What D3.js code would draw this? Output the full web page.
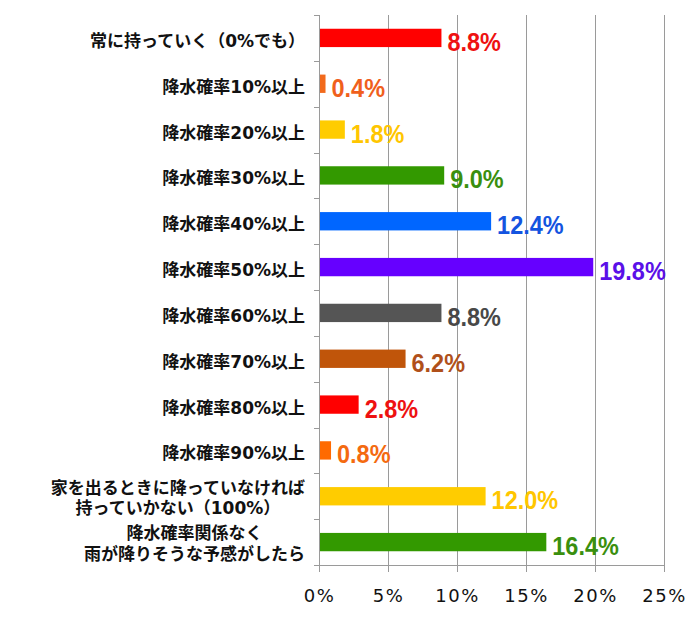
<!DOCTYPE html>
<html><head><meta charset="utf-8">
<script src="https://cdn.jsdelivr.net/npm/d3@7"></script>
<style>body{margin:0;background:#fff;} svg{display:block;}</style>
</head><body>
<svg id="c" width="696" height="625"></svg>
<script>
const categories = [
  ["常に持っていく（0%でも）"],
  ["降水確率10%以上"],
  ["降水確率20%以上"],
  ["降水確率30%以上"],
  ["降水確率40%以上"],
  ["降水確率50%以上"],
  ["降水確率60%以上"],
  ["降水確率70%以上"],
  ["降水確率80%以上"],
  ["降水確率90%以上"],
  ["家を出るときに降っていなければ", "持っていかない（100%）"],
  ["降水確率関係なく", "雨が降りそうな予感がしたら"]
];
const values = [8.8, 0.4, 1.8, 9.0, 12.4, 19.8, 8.8, 6.2, 2.8, 0.8, 12.0, 16.4];
const barColors = ["#ff0000","#f26a1c","#ffcc00","#339900","#0066ff","#6600ff","#555555","#c0550a","#ff0000","#ff6a00","#ffcc00","#339900"];
const labelColors = ["#ee1111","#f0601c","#ffc600","#3a8f0e","#1454e0","#5a10e8","#484848","#b0501a","#ee1111","#f46a10","#ffc600","#3a8f0e"];
const xTicks = [0, 5, 10, 15, 20, 25];

const svg = d3.select("#c");
const pL = 319, pR = 664, pT = 15, pB = 565;
const x = d3.scaleLinear().domain([0, 25]).range([pL, pR]);
const y = d3.scaleBand().domain(d3.range(categories.length)).range([pT, pB]).paddingInner(0.6).paddingOuter(0.3);
const yb = d3.scaleBand().domain(d3.range(categories.length)).range([pT, pB]);

// gridlines
svg.append("g").selectAll("line").data(xTicks.slice(1)).join("line")
  .attr("x1", d => Math.round(x(d)) + 0.5).attr("x2", d => Math.round(x(d)) + 0.5)
  .attr("y1", pT).attr("y2", pB + 7)
  .attr("stroke", "#9a9a9a").attr("stroke-width", 1);

// x axis
const xAxis = svg.append("g").attr("transform", `translate(0,${pB})`)
  .call(d3.axisBottom(x).tickValues(xTicks).tickFormat(d => d + "%").tickSize(7).tickPadding(17));
xAxis.select(".domain").attr("stroke", "#9a9a9a").attr("d", `M${pL},0.5H${pR}`);
xAxis.selectAll(".tick line").attr("stroke", "#9a9a9a");
xAxis.selectAll("text").attr("font-family", "'DejaVu Sans', sans-serif").attr("font-size", 18)
  .attr("letter-spacing", "1.5px").attr("fill", "#111");

// y axis line + ticks
svg.append("line").attr("x1", pL + 0.5).attr("x2", pL + 0.5).attr("y1", pT).attr("y2", pB + 7).attr("stroke", "#9a9a9a");
svg.append("g").selectAll("line").data(d3.range(categories.length + 1)).join("line")
  .attr("x1", pL - 5).attr("x2", pL)
  .attr("y1", d => Math.round(pT + d * yb.step()) + 0.5).attr("y2", d => Math.round(pT + d * yb.step()) + 0.5)
  .attr("stroke", "#9a9a9a");

// bars
svg.append("g").selectAll("rect").data(values).join("rect")
  .attr("x", pL + 1).attr("y", (d, i) => y(i))
  .attr("width", d => x(d) - pL).attr("height", y.bandwidth())
  .attr("fill", (d, i) => barColors[i]);

// value labels
svg.append("g").selectAll("text").data(values).join("text")
  .attr("transform", (d, i) => `translate(${x(d) + 7},${y(i) + y.bandwidth() / 2 + 13}) scale(0.92,1)`)
  .attr("font-family", "'Liberation Sans', sans-serif")
  .attr("font-weight", "bold").attr("font-size", 25.5)
  .attr("fill", (d, i) => labelColors[i])
  .text(d => d.toFixed(1) + "%");

// category labels
const labelRight = 305;
const cl = svg.append("g").selectAll("text").data(categories).join("text")
  .attr("font-family", "'DejaVu Sans', 'Noto Sans CJK JP', sans-serif")
  .attr("font-weight", "bold").attr("font-size", 17).attr("fill", "#111");
cl.each(function(lines, i) {
  const cy = yb(i) + yb.bandwidth() / 2;
  const n = lines.length;
  const g = d3.select(this);
  const spans = lines.map((t, k) => g.append("tspan")
      .attr("y", cy + (k - (n - 1) / 2) * 20.5 + (n > 1 ? 7.5 : 9)).text(t));
  if (n === 1) {
    g.attr("text-anchor", "end");
    spans[0].attr("x", labelRight);
  } else {
    const maxW = d3.max(spans, s => s.node().getComputedTextLength());
    g.attr("text-anchor", "middle");
    spans.forEach(s => s.attr("x", labelRight - maxW / 2));
  }
});
</script>
</body></html>
